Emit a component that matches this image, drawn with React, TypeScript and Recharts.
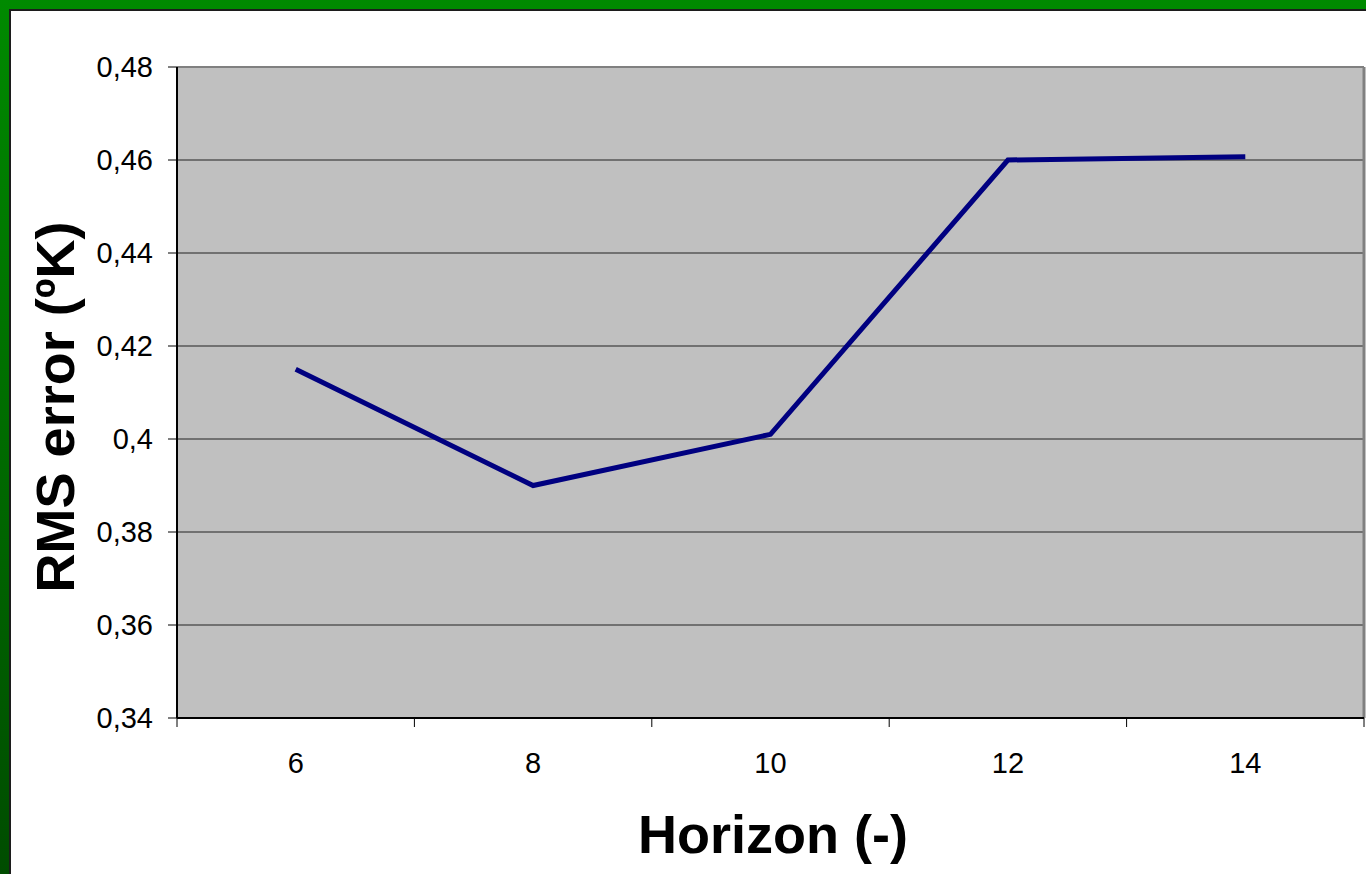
import React from 'react';
import { LineChart, Line, XAxis, YAxis, CartesianGrid, ReferenceLine } from 'recharts';

// Horizon (category) vs RMS error
const horizons = [6, 8, 10, 12, 14];
const rmsError = [0.415, 0.39, 0.401, 0.46, 0.4607];

// axis ticks
const yTicks = [0.34, 0.36, 0.38, 0.4, 0.42, 0.44, 0.46, 0.48];
const xBoundaries = [5, 7, 9, 11, 13, 15];

const FONT = '"Liberation Sans", Arial, sans-serif';

const data = horizons.map((h, i) => ({ horizon: h, rms: rmsError[i] }));
const xTicks = [...xBoundaries, ...horizons].sort((a, b) => a - b);

// Excel-style category axis: tick marks between categories, labels in the middle
const XTick = (props: any) => {
  const { x, y, payload } = props;
  if (xBoundaries.includes(payload.value)) {
    return <line x1={x} x2={x} y1={y} y2={y + 9} stroke="#000" strokeWidth={1} />;
  }
  return (
    <text x={x} y={y + 55} textAnchor="middle" fontSize={29} fontFamily={FONT} fill="#000">
      {payload.value}
    </text>
  );
};

const YTitle = () => (
  <text
    x={74}
    y={407}
    transform="rotate(-90 74 407)"
    textAnchor="middle"
    fontSize={54}
    fontWeight="bold"
    fontFamily={FONT}
    fill="#000"
  >
    RMS error (ºK)
  </text>
);

const XTitle = () => (
  <text x={773} y={853} textAnchor="middle" fontSize={54} fontWeight="bold" fontFamily={FONT} fill="#000">
    Horizon (-)
  </text>
);

export default function App() {
  return (
    <div
      style={{
        position: 'absolute',
        left: 0,
        top: 0,
        width: 1366,
        height: 874,
        overflow: 'hidden',
        background: 'linear-gradient(to bottom, #008a00, #004c00)',
      }}
    >
      <div
        style={{
          position: 'absolute',
          left: 9,
          top: 9,
          right: 0,
          bottom: 0,
          background: '#fff',
          borderLeft: '2px solid #1c1c1c',
          borderTop: '2px solid #1c1c1c',
        }}
      />
      <div style={{ position: 'absolute', left: 0, top: 0 }}>
        <LineChart width={1366} height={874} data={data} margin={{ top: 67, right: 2, bottom: 0, left: 57 }}>
          <CartesianGrid vertical={false} fill="#C0C0C0" stroke="#222" strokeWidth={1} />
          <XAxis
            dataKey="horizon"
            type="number"
            domain={[5, 15]}
            ticks={xTicks}
            interval={0}
            height={156}
            tickLine={false}
            tickSize={0}
            tickMargin={0}
            axisLine={{ stroke: '#000', strokeWidth: 2 }}
            tick={<XTick />}
            label={<XTitle />}
          />
          <YAxis
            type="number"
            domain={[0.34, 0.48]}
            ticks={yTicks}
            interval={0}
            width={120}
            tickSize={9}
            tickMargin={15}
            tickLine={{ stroke: '#000' }}
            axisLine={{ stroke: '#000', strokeWidth: 2 }}
            tick={{ fontSize: 29, fontFamily: FONT, fill: '#000' }}
            tickFormatter={(v: number) => String(v).replace('.', ',')}
            label={<YTitle />}
          />
          <ReferenceLine y={0.48} stroke="#808080" strokeWidth={2} />
          <ReferenceLine x={15} stroke="#808080" strokeWidth={3} />
          <Line
            type="linear"
            dataKey="rms"
            stroke="#000080"
            strokeWidth={5}
            dot={false}
            isAnimationActive={false}
          />
        </LineChart>
      </div>
    </div>
  );
}
